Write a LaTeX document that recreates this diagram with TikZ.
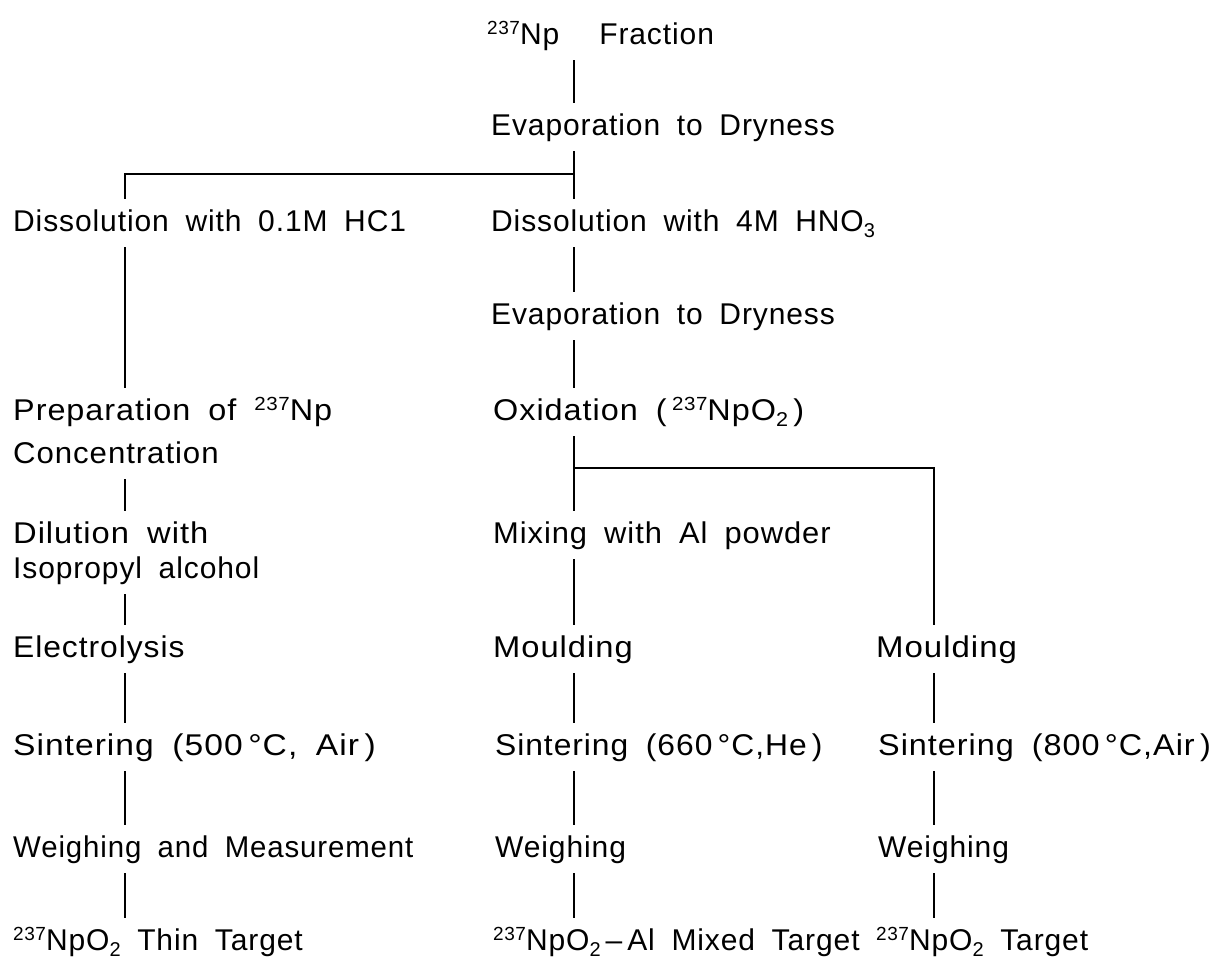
\documentclass[tikz,border=0pt]{standalone}
\usepackage{graphicx}
\usepackage{fontspec}
\setmainfont{Liberation Sans}[LetterSpace=3,WordSpace=1.8]
\newcommand\sups[1]{\raisebox{10pt}{\fontsize{19}{19}\selectfont #1}}
\newcommand\subs[1]{\raisebox{-6pt}{\fontsize{20}{20}\selectfont #1}}
\newcommand\hs[2]{\scalebox{#1}[1]{#2}}
\begin{document}
\begin{tikzpicture}[x=1pt,y=-1pt,
  lab/.style={anchor=base west,inner sep=0pt,text height=22pt,text depth=6pt,outer ysep=10pt,
    font=\fontsize{30}{43}\selectfont},
  conn/.style={line width=1.8pt}]
\useasboundingbox[fill=white] (0,0) rectangle (1223,972);
\def\colL{125}\def\colM{574}\def\colR{934}
% top
\node[lab] (frac) at (487,44) {\sups{237}Np\hspace{40pt}Fraction};
\node[lab] (evapA) at (491,135) {Evaporation to Dryness};
\node[lab] (dissL) at (13,231) {Dissolution with 0.1M HC1};
\node[lab] (dissM) at (491,231) {Dissolution with 4M HNO\subs{3}};
\node[lab] (evapB) at (491,324) {Evaporation to Dryness};
% left column
\node[lab] (prepA) at (13,420) {\hs{1.08}{Preparation of \sups{237}Np}};
\node[lab] (prepB) at (13,463) {\hs{1.04}{Concentration}};
\node[lab] (dilA) at (13,543) {\hs{1.09}{Dilution with}};
\node[lab] (dilB) at (13,578) {Isopropyl alcohol};
\node[lab] (elec) at (13,657) {\hs{1.06}{Electrolysis}};
\node[lab] (sintL) at (13,755) {\hs{1.12}{Sintering (500\,°C, Air\,)}};
\node[lab] (weighL) at (13,857) {\hs{0.98}{Weighing and Measurement}};
\node[lab] (targL) at (13,950) {\sups{237}NpO\subs{2} Thin Target};
% middle column
\node[lab] (oxid) at (493,420) {\hs{1.08}{Oxidation (\,\sups{237}NpO\subs{2}\,)}};
\node[lab] (mix) at (493,543) {\hs{1.03}{Mixing with Al powder}};
\node[lab] (mouldM) at (493,657) {\hs{1.09}{Moulding}};
\node[lab] (sintM) at (495,755) {\hs{1.06}{Sintering (660\,°C,He\,)}};
\node[lab] (weighM) at (495,857) {Weighing};
\node[lab] (targM) at (493,950) {\sups{237}NpO\subs{2}\,–\,Al Mixed Target};
% right column
\node[lab] (mouldR) at (876,657) {\hs{1.1}{Moulding}};
\node[lab] (sintR) at (878,755) {\hs{1.08}{Sintering (800\,°C,Air\,)}};
\node[lab] (weighR) at (878,857) {Weighing};
\node[lab] (targR) at (876,950) {\sups{237}NpO\subs{2} Target};
% branch points
\coordinate (b1) at (\colM,174);
\coordinate (b2) at (\colM,468);
% connectors
\draw[conn] (frac.south -| b1) -- (evapA.north -| b1);
\draw[conn] (evapA.south -| b1) -- (b1) -- (dissM.north -| b1);
\draw[conn] (b1) -| (dissL.north -| \colL,0);
\draw[conn] (dissL.south -| \colL,0) -- (prepA.north -| \colL,0);
\draw[conn] (prepB.south -| \colL,0) -- (dilA.north -| \colL,0);
\draw[conn] (dilB.south -| \colL,0) -- (elec.north -| \colL,0);
\draw[conn] (elec.south -| \colL,0) -- (sintL.north -| \colL,0);
\draw[conn] (sintL.south -| \colL,0) -- (weighL.north -| \colL,0);
\draw[conn] (weighL.south -| \colL,0) -- (targL.north -| \colL,0);
\draw[conn] (dissM.south -| b1) -- (evapB.north -| b1);
\draw[conn] (evapB.south -| b1) -- (oxid.north -| b1);
\draw[conn] (oxid.south -| b2) -- (b2) -- (mix.north -| b2);
\draw[conn] (b2) -| (mouldR.north -| \colR,0);
\draw[conn] (mix.south -| b2) -- (mouldM.north -| b2);
\draw[conn] (mouldM.south -| b2) -- (sintM.north -| b2);
\draw[conn] (sintM.south -| b2) -- (weighM.north -| b2);
\draw[conn] (weighM.south -| b2) -- (targM.north -| b2);
\draw[conn] (mouldR.south -| \colR,0) -- (sintR.north -| \colR,0);
\draw[conn] (sintR.south -| \colR,0) -- (weighR.north -| \colR,0);
\draw[conn] (weighR.south -| \colR,0) -- (targR.north -| \colR,0);
\end{tikzpicture}
\end{document}
